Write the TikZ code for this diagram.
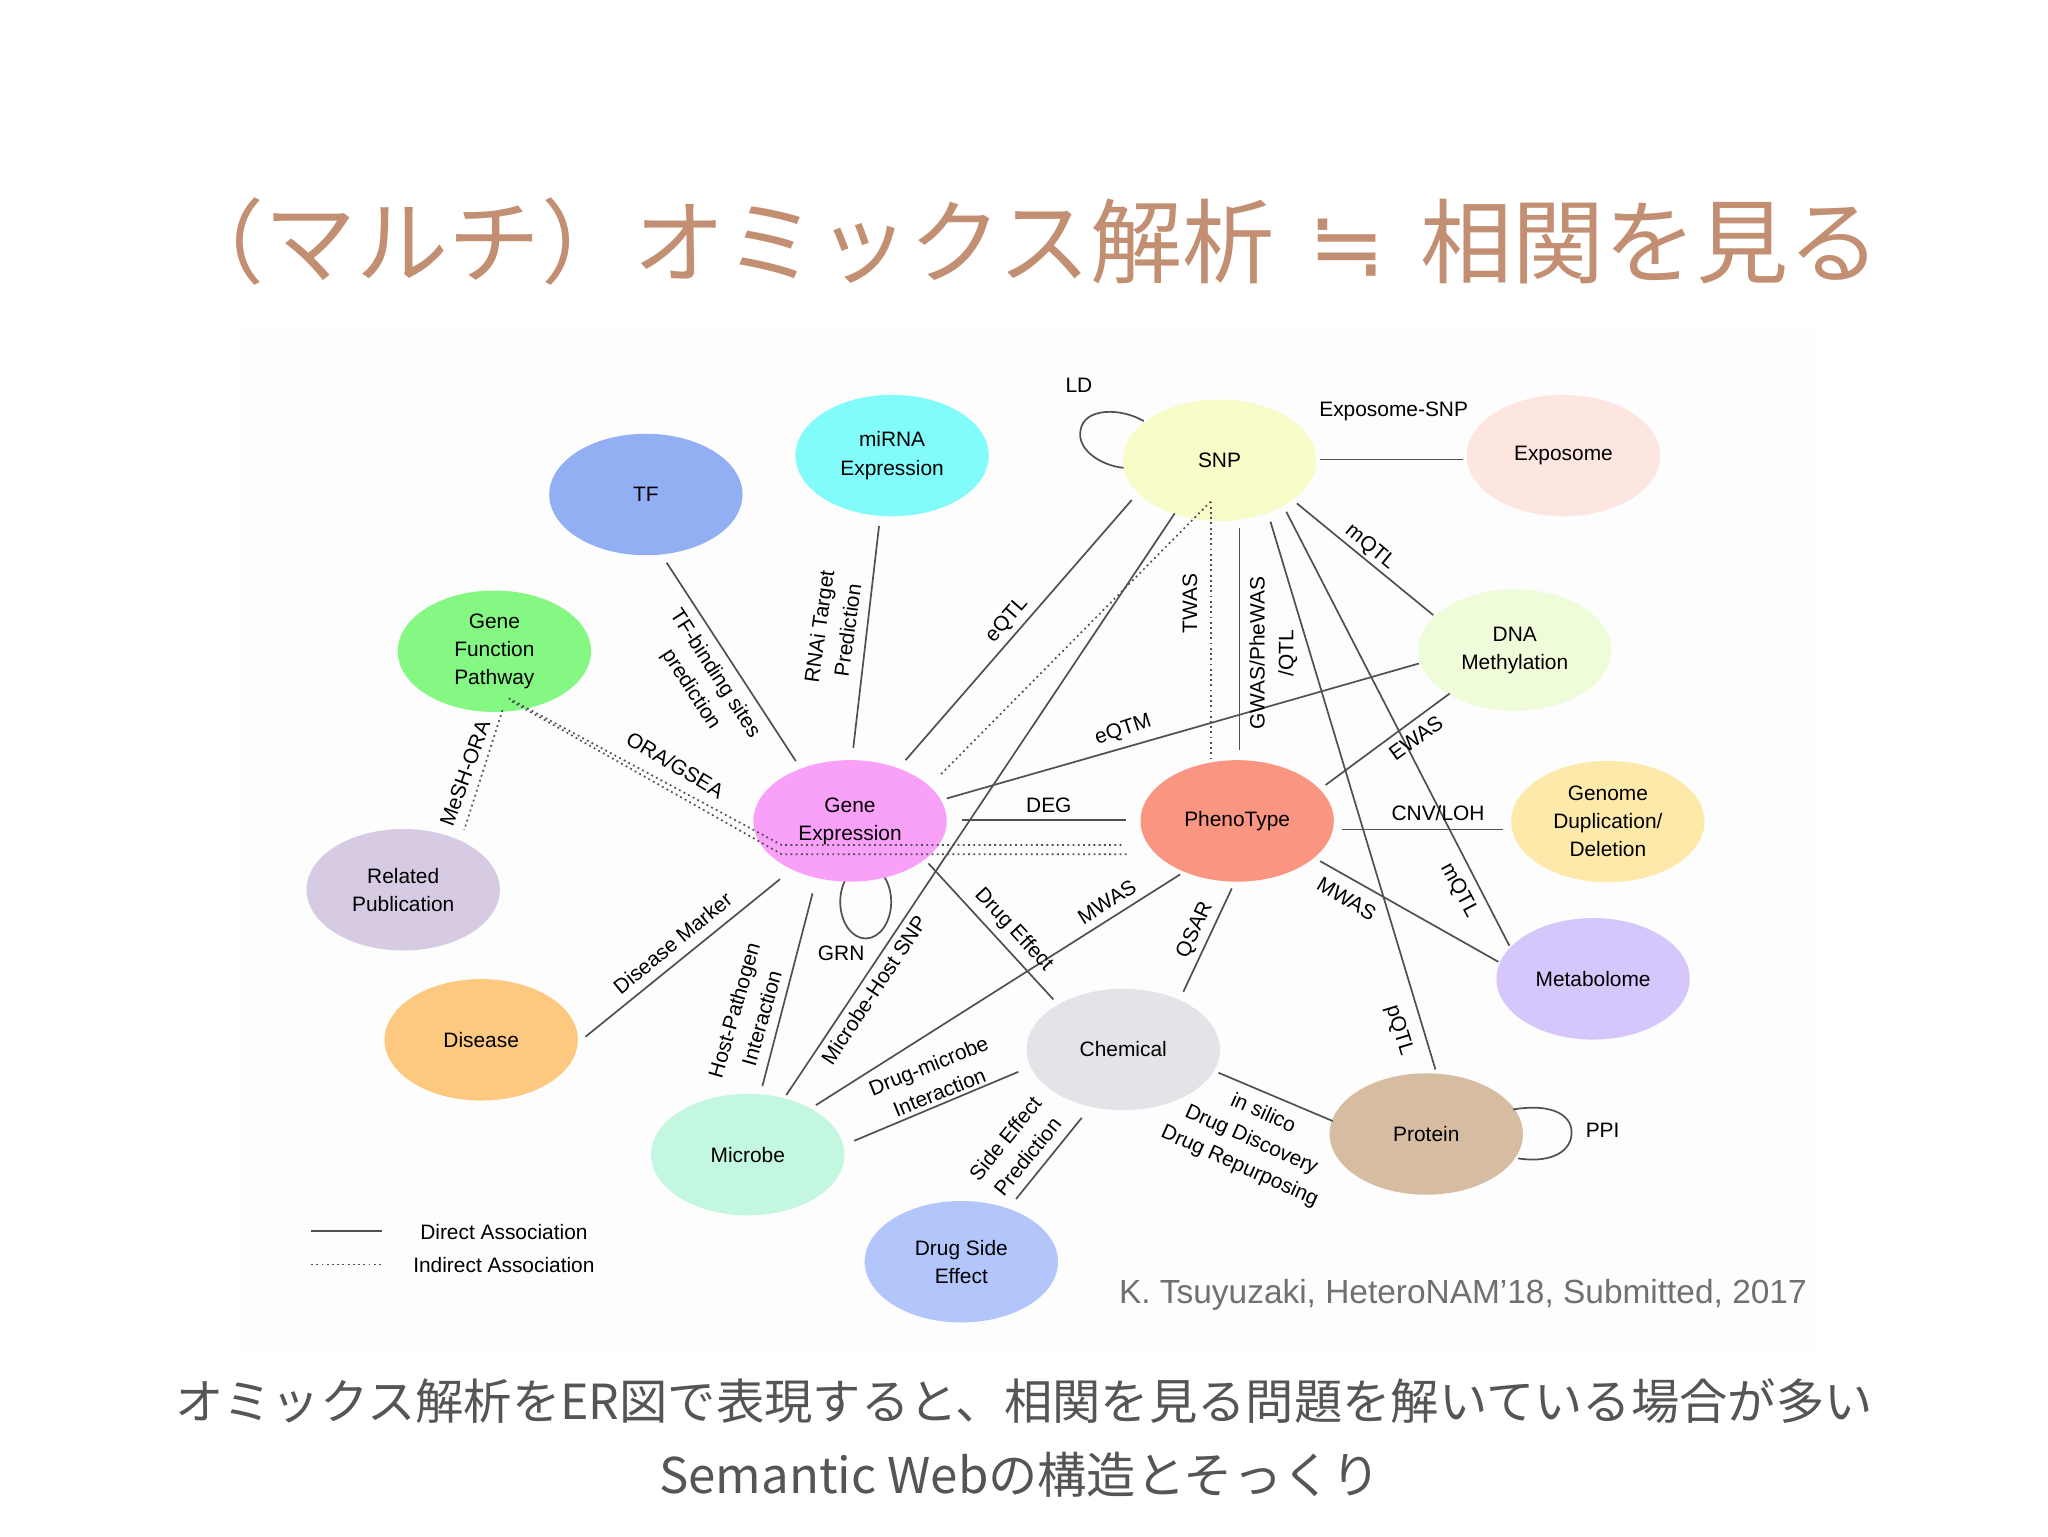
\documentclass[tikz,border=0pt]{standalone}
\usepackage{fontspec}
\setmainfont{Liberation Sans}
\newfontfamily\jp{Noto Sans CJK JP}
\newfontfamily\dejavu{DejaVu Sans}
\usetikzlibrary{shapes.geometric,calc}
\definecolor{cTF}{HTML}{93AFF4}
\definecolor{cmirna}{HTML}{82FBFB}
\definecolor{csnp}{HTML}{F7FCC8}
\definecolor{cexpo}{HTML}{FCE6DF}
\definecolor{cgfp}{HTML}{84F883}
\definecolor{cdna}{HTML}{EEFCDA}
\definecolor{cge}{HTML}{F9A0F8}
\definecolor{cpheno}{HTML}{FA9582}
\definecolor{cgdd}{HTML}{FDEAAA}
\definecolor{crel}{HTML}{D6CBE2}
\definecolor{cdis}{HTML}{FDC880}
\definecolor{cmetab}{HTML}{D5C7FC}
\definecolor{cchem}{HTML}{E4E3E8}
\definecolor{cmic}{HTML}{C3F7E0}
\definecolor{cprot}{HTML}{D6BDA1}
\definecolor{cdse}{HTML}{B3C6FC}
\definecolor{linegray}{HTML}{505050}
\definecolor{ctitle}{HTML}{C28F73}
\definecolor{csub}{HTML}{555555}
\definecolor{ccite}{HTML}{707070}
\definecolor{cpanel}{HTML}{FDFDFD}
\tikzset{
  ent/.style={ellipse, minimum width=148pt, minimum height=93pt, inner sep=0pt,
    align=center, font=\fontsize{16}{21.5}\selectfont, text=black},
  lab/.style={font=\fontsize{16}{22}\selectfont, align=center, inner sep=0pt, text=black},
  conn/.style={draw=linegray, line width=1.3pt},
  ind/.style={draw=linegray, line width=1.3pt, dash pattern=on 1.4pt off 2.6pt},
}
\begin{document}
\begin{tikzpicture}[x=1pt,y=-1pt]
\useasboundingbox (0,0) rectangle (1568,1176);
\fill[white] (0,0) rectangle (1568,1176);
\fill[cpanel] (184,250) rectangle (1390,1035);

% title and captions
\node[font=\jp\fontsize{70.5}{74}\selectfont, text=ctitle, inner sep=0pt] (title) at (786,185) {（マルチ）オミックス解析\hspace{26pt}{\dejavu ≒}\hspace{26pt}相関を見る};
\node[font=\jp\fontsize{37}{40}\selectfont, text=csub, inner sep=0pt] (sub1) at (784,1073) {オミックス解析をER図で表現すると、相関を見る問題を解いている場合が多い};
\node[font=\jp\fontsize{37.7}{40}\selectfont, text=csub, inner sep=0pt] (sub2) at (781,1129) {Semantic Webの構造とそっくり};
\node[font=\fontsize{25.6}{27}\selectfont, text=ccite, inner sep=0pt] (cite) at (1120,991) {K. Tsuyuzaki, HeteroNAM’18, Submitted, 2017};

% self loops behind nodes
\draw[conn] (662.8,690.5) ellipse [x radius=19.5pt, y radius=28pt];
\begin{scope}[shift={(933.7,352.4)}]
\draw[conn] (-58,-30) .. controls (-75.7,-40.4) and (-103.7,-40.4) .. (-106.4,-23.1)
  .. controls (-109.7,-7.4) and (-88.7,5.6) .. (-70,6);
\end{scope}

% entities
\node[ent, fill=cTF] (tf) at (494.5,378.6) {TF};
\node[ent, fill=cmirna] (mirna) at (683,348.8) {miRNA\\Expression};
\node[ent, fill=csnp] (snp) at (933.7,352.4) {SNP};
\node[ent, fill=cexpo] (expo) at (1197,348.8) {Exposome};
\node[ent, fill=cgfp] (gfp) at (378.5,498.6) {Gene\\Function\\Pathway};
\node[ent, fill=cdna] (dna) at (1159.7,497.7) {DNA\\Methylation};
\node[ent, fill=cge] (ge) at (650.8,628.5) {Gene\\Expression};
\node[ent, fill=cpheno] (pheno) at (947.2,628.5) {PhenoType};
\node[ent, fill=cgdd] (gdd) at (1231,629) {Genome\\Duplication/\\Deletion};
\node[ent, fill=crel] (relpub) at (308.7,681.2) {Related\\Publication};
\node[ent, fill=cdis] (disease) at (368.4,796.1) {Disease};
\node[ent, fill=cmetab] (metab) at (1219.7,749.4) {Metabolome};
\node[ent, fill=cchem] (chem) at (860,803.5) {Chemical};
\node[ent, fill=cmic] (microbe) at (572.5,884) {Microbe};
\node[ent, fill=cprot] (protein) at (1092,868.2) {Protein};
\node[ent, fill=cdse] (dse) at (736,966) {Drug Side\\Effect};

% PPI loop
\draw[conn] ($(protein)+(66.4,-18.8)$) .. controls ($(protein)+(100,-24.2)$) and ($(protein)+(112,-12.2)$) .. ($(protein)+(111.2,-0.4)$)
  .. controls ($(protein)+(111,11.8)$) and ($(protein)+(98,22.8)$) .. ($(protein)+(70.3,18.7)$);

% direct associations
\draw[conn] ($(tf)+(15.9,52.2)$) -- ($(ge)+(-41.5,-45.8)$);
\draw[conn] ($(mirna)+(-10,54)$) -- ($(ge)+(2.5,-56)$);
\draw[conn] ($(snp)+(-67.2,30.4)$) -- ($(ge)+(42.5,-46.5)$);
\draw[conn] ($(snp)+(15.2,52.1)$) -- ($(pheno)+(1.7,-54.2)$);
\draw[conn] ($(snp)+(76.7,-0.7)$) -- ($(expo)+(-77,2.9)$);
\draw[conn] ($(snp)+(59.2,33)$) -- ($(dna)+(-62.4,-26.8)$);
\draw[conn] ($(snp)+(-34.3,40.6)$) -- ($(microbe)+(29.5,-45.6)$);
\draw[conn] ($(snp)+(39,47)$) -- ($(protein)+(7,-49.4)$);
\draw[conn] ($(snp)+(51.1,39.4)$) -- ($(metab)+(-64.1,-25.3)$);
\draw[conn] ($(dna)+(-73.4,10.3)$) -- ($(ge)+(74.1,-17.2)$);
\draw[conn] ($(dna)+(-49.7,33.2)$) -- ($(pheno)+(67.7,-27.5)$);
\draw[conn] ($(ge)+(85.6,-0.5)$) -- ($(pheno)+(-85,-0.5)$);
\draw[conn] ($(pheno)+(80.1,6.5)$) -- ($(gdd)+(-80.6,6)$);
\draw[conn] ($(pheno)+(63.5,30.8)$) -- ($(metab)+(-72.5,-13)$);
\draw[conn] ($(pheno)+(-4.1,51.7)$) -- ($(chem)+(46,-44.2)$);
\draw[conn] ($(pheno)+(-43.7,41)$) -- ($(microbe)+(52.2,-37.9)$);
\draw[conn] ($(ge)+(60,32.5)$) -- ($(chem)+(-53.5,-38.3)$);
\draw[conn] ($(ge)+(-53.6,44.6)$) -- ($(disease)+(79.8,-2.3)$);
\draw[conn] ($(ge)+(-28.7,55.5)$) -- ($(microbe)+(11.2,-52.5)$);
\draw[conn] ($(microbe)+(81.5,-10.6)$) -- ($(chem)+(-80.3,17.1)$);
\draw[conn] ($(chem)+(-31.8,52.3)$) -- ($(dse)+(41.9,-48)$);
\draw[conn] ($(chem)+(72.9,17.8)$) -- ($(protein)+(-71.6,-9.9)$);

% indirect associations
\draw[ind] ($(snp)+(-6.8,31.6)$) -- ($(ge)+(68.4,-34.5)$);
\draw[ind] ($(snp)+(-6.8,31.6)$) -- ($(pheno)+(-20.3,-47.8)$);
\draw[ind] ($(gfp)+(6.2,45.1)$) -- ($(relpub)+(46.7,-45.7)$);
\draw[ind] ($(gfp)+(11,36)$) -- ($(ge)+(-52.3,18.5)$) -- ($(pheno)+(-87.2,18.5)$);
\draw[ind] ($(gfp)+(13.5,38.5)$) -- ($(ge)+(-52.3,25.5)$) -- ($(pheno)+(-84.2,25.5)$);

% relation labels
\node[lab] (lLD) at (826,295) {LD};
\node[lab] (lExpoSNP) at (1067,315) {Exposome-SNP};
\node[lab, rotate=-39.4] (lmQTL1) at (1049,419) {mQTL};
\node[lab, rotate=90] (lTWAS) at (911,462) {TWAS};
\node[lab, rotate=90] (lGWAS) at (975,500) {GWAS/PheWAS\\/QTL};
\node[lab, rotate=49] (leQTL) at (771,475) {eQTL};
\node[lab, rotate=82] (lRNAi) at (638,481) {RNAi Target\\Prediction};
\node[lab, rotate=-57] (lTFbs) at (538,522) {TF-binding sites\\prediction};
\node[lab, rotate=-31] (lORA) at (517,585.5) {ORA/GSEA};
\node[lab, rotate=70] (lMeSH) at (356,592) {MeSH-ORA};
\node[lab, rotate=18] (leQTM) at (860,559) {eQTM};
\node[lab] (lDEG) at (803,616.4) {DEG};
\node[lab, rotate=36] (lEWAS) at (1084,565) {EWAS};
\node[lab] (lCNV) at (1101,622.8) {CNV/LOH};
\node[lab, rotate=-62] (lmQTL2) at (1117,681.5) {mQTL};
\node[lab, rotate=-31] (lMWAS1) at (1031,688) {MWAS};
\node[lab, rotate=65] (lQSAR) at (915,712) {QSAR};
\node[lab, rotate=32.3] (lMWAS2) at (847.4,690.4) {MWAS};
\node[lab, rotate=-47] (lDrugEff) at (776,712) {Drug Effect};
\node[lab, rotate=-73] (lpQTL) at (1071,789) {pQTL};
\node[lab, rotate=39.5] (lDisMark) at (515,722) {Disease Marker};
\node[lab, rotate=74] (lHostPath) at (572.5,776.5) {Host-Pathogen\\Interaction};
\node[lab] (lGRN) at (644,730) {GRN};
\node[lab, rotate=56.5] (lMicHost) at (669,758) {Microbe-Host SNP};
\node[lab, rotate=22] (lDrugMic) at (715,826) {Drug-microbe\\Interaction};
\node[lab, rotate=51] (lSideEff) at (778,878.4) {Side Effect\\Prediction};
\node[lab, rotate=-24] (lInSilico) at (958,873) {in silico\\Drug Discovery\\Drug Repurposing};
\node[lab] (lPPI) at (1227,865) {PPI};

% legend
\coordinate (lgDa) at (238.2,942.3);
\coordinate (lgDb) at (292.5,942.3);
\coordinate (lgIa) at (238.2,968);
\coordinate (lgIb) at (292.5,968);
\draw[conn] (lgDa) -- (lgDb);
\draw[ind] (lgIa) -- (lgIb);
\node[lab] (lgDt) at (385.8,943) {Direct Association};
\node[lab] (lgIt) at (385.8,968.6) {Indirect Association};
\end{tikzpicture}
\end{document}
